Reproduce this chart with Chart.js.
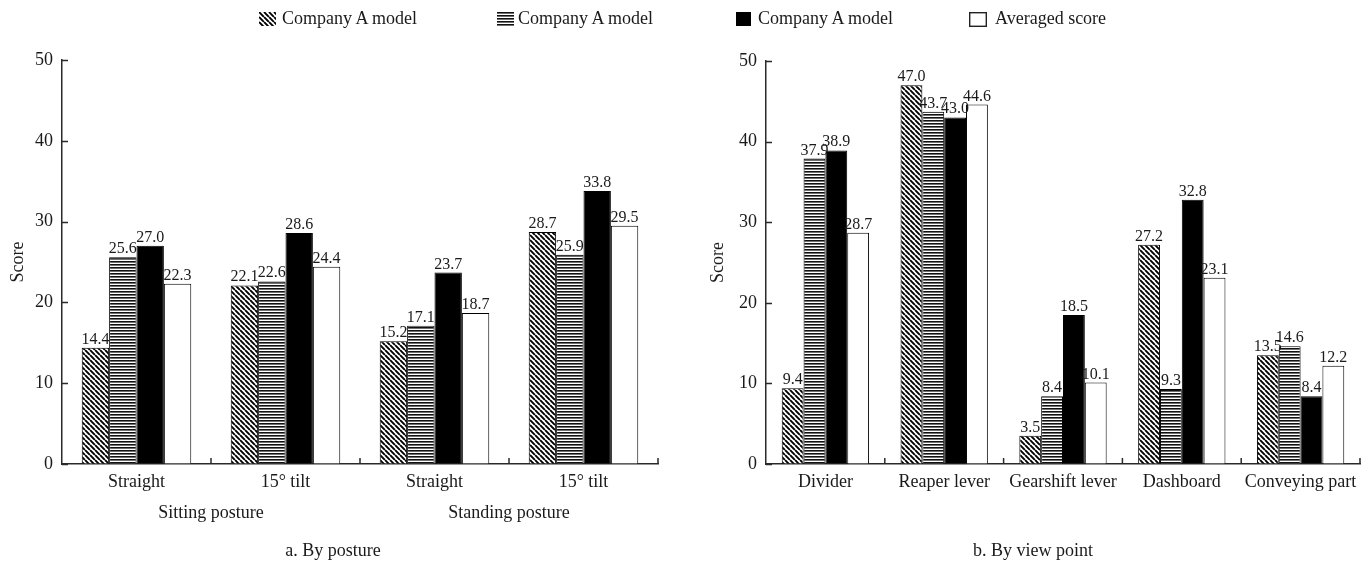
<!DOCTYPE html>
<html>
<head>
<meta charset="utf-8">
<script src="https://cdn.jsdelivr.net/npm/chart.js@4.4.1/dist/chart.umd.min.js"></script>
<style>
  html, body { margin: 0; padding: 0; background: #fff; }
  body { width: 1371px; height: 564px; overflow: hidden; position: relative;
         font-family: "Liberation Serif", "Times New Roman", serif; color: #1a1a1a; }
  .sw { position: absolute; top: 12px; }
  .lt { position: absolute; top: 9px; font-size: 18px; line-height: 18px; white-space: nowrap; }
  .cap { position: absolute; top: 541px; font-size: 18px; line-height: 18px; white-space: nowrap; transform: translateX(-50%); }
  #c1 { position: absolute; left: 0; top: 0; }
  #c2 { position: absolute; left: 700px; top: 0; }
</style>
</head>
<body>
<canvas id="c1" width="700" height="564"></canvas>
<canvas id="c2" width="671" height="564"></canvas>

<canvas class="sw" id="sw0" width="17" height="14" style="left:259px"></canvas>
<div class="lt" id="lt0" style="left:282px"></div>
<canvas class="sw" id="sw1" width="17" height="14" style="left:497px"></canvas>
<div class="lt" id="lt1" style="left:518px"></div>
<canvas class="sw" id="sw2" width="15" height="14" style="left:736px"></canvas>
<div class="lt" id="lt2" style="left:758px"></div>
<canvas class="sw" id="sw3" width="18" height="15" style="left:969px"></canvas>
<div class="lt" id="lt3" style="left:995px"></div>

<div class="cap" style="left:333px">a. By posture</div>
<div class="cap" style="left:1033px">b. By view point</div>

<script>
// ---------- data ----------
const seriesNames = ['Company A model', 'Company A model', 'Company A model', 'Averaged score'];

const postureLabels = ['Straight', '15\u00B0 tilt', 'Straight', '15\u00B0 tilt'];
const postureGroups = ['Sitting posture', 'Standing posture'];
const postureS1  = [14.4, 22.1, 15.2, 28.7];
const postureS2  = [25.6, 22.6, 17.1, 25.9];
const postureS3  = [27.0, 28.6, 23.7, 33.8];
const postureAvg = [22.3, 24.4, 18.7, 29.5];

const viewLabels = ['Divider', 'Reaper lever', 'Gearshift lever', 'Dashboard', 'Conveying part'];
const viewS1  = [9.4, 47.0, 3.5, 27.2, 13.5];
const viewS2  = [37.9, 43.7, 8.4, 9.3, 14.6];
const viewS3  = [38.9, 43.0, 18.5, 32.8, 8.4];
const viewAvg = [28.7, 44.6, 10.1, 23.1, 12.2];

const yTicks = [0, 10, 20, 30, 40, 50];

// ---------- styles ----------
const FONT = '"Liberation Serif", "Times New Roman", serif';
const INK = '#1a1a1a';
const AXIS = '#2a2a2a';

function hatchPattern() {
  const s = 5;
  const c = document.createElement('canvas'); c.width = s; c.height = s;
  const g = c.getContext('2d');
  g.fillStyle = '#fff'; g.fillRect(0, 0, s, s);
  g.strokeStyle = '#000'; g.lineWidth = 1.9;
  g.beginPath();
  for (const o of [-s, 0, s]) { g.moveTo(o, 0); g.lineTo(o + s, s); }
  g.stroke();
  return g.createPattern(c, 'repeat');
}
function linePattern() {
  const c = document.createElement('canvas'); c.width = 4; c.height = 3;
  const g = c.getContext('2d');
  g.fillStyle = '#fff'; g.fillRect(0, 0, 4, 3);
  g.fillStyle = '#111'; g.fillRect(0, 0, 4, 1.6);
  return g.createPattern(c, 'repeat');
}
const fills = [hatchPattern(), linePattern(), '#000', '#fff'];

// ---------- legend (HTML text + painted swatches) ----------
seriesNames.forEach((n, i) => {
  document.getElementById('lt' + i).textContent = n;
  const cv = document.getElementById('sw' + i);
  const g = cv.getContext('2d');
  if (i === 3) {
    g.fillStyle = '#fff'; g.fillRect(0, 0, cv.width, cv.height);
    g.strokeStyle = '#222'; g.lineWidth = 1.4;
    g.strokeRect(0.7, 0.7, cv.width - 1.4, cv.height - 1.4);
  } else {
    g.fillStyle = fills[i]; g.fillRect(0, 0, cv.width, cv.height);
  }
});

// ---------- plugins ----------
const valueLabels = {
  id: 'valueLabels',
  afterDatasetsDraw(chart) {
    const ctx = chart.ctx;
    ctx.save();
    ctx.font = '16px ' + FONT;
    ctx.fillStyle = INK;
    ctx.textAlign = 'center';
    ctx.textBaseline = 'alphabetic';
    chart.data.datasets.forEach((ds, di) => {
      chart.getDatasetMeta(di).data.forEach((el, i) => {
        ctx.fillText(ds.data[i].toFixed(1), el.x, el.y - 4);
      });
    });
    ctx.restore();
  }
};

const inwardTicks = {
  id: 'inwardTicks',
  afterDraw(chart) {
    const ctx = chart.ctx;
    const x = chart.scales.x, y = chart.scales.y;
    ctx.save();
    ctx.strokeStyle = AXIS; ctx.lineWidth = 1.5;
    ctx.beginPath();
    yTicks.forEach(v => {
      const py = Math.round(y.getPixelForValue(v)) + 0.5;
      ctx.moveTo(x.left, py); ctx.lineTo(x.left + 6, py);
    });
    const n = x.getLabels().length;
    for (let i = 1; i <= n; i++) {
      const px = x.left + (x.right - x.left) * i / n;
      ctx.moveTo(px, y.bottom); ctx.lineTo(px, y.bottom - 6);
    }
    ctx.stroke();
    ctx.restore();
  }
};

function makeDatasets(arrs) {
  return arrs.map((d, i) => ({
    label: seriesNames[i],
    data: d,
    backgroundColor: fills[i],
    borderColor: '#000',
    borderWidth: 1,
    barPercentage: 1.0,
    categoryPercentage: 0.735
  }));
}

function yScale(width) {
  return {
    min: 0, max: 50,
    afterBuildTicks: s => { s.ticks = yTicks.map(v => ({ value: v })); },
    ticks: { font: { family: FONT, size: 18 }, color: INK, padding: 9 },
    grid: { display: true, drawOnChartArea: false, drawTicks: false },
    border: { display: true, color: AXIS, width: 1.5 },
    title: { display: true, text: 'Score', font: { family: FONT, size: 18 }, color: INK, padding: { top: 7, bottom: 0 } },
    afterFit: s => { s.width = width; }
  };
}

function xScale(height) {
  return {
    type: 'category',
    offset: true,
    weight: 0,
    ticks: { font: { family: FONT, size: 18 }, color: INK, padding: 7, maxRotation: 0, autoSkip: false },
    grid: { display: true, drawOnChartArea: false, drawTicks: false },
    border: { display: true, color: AXIS, width: 1.5 },
    afterFit: s => { s.height = height; }
  };
}

const common = {
  responsive: false,
  animation: false,
  events: [],
  plugins: { legend: { display: false }, tooltip: { enabled: false }, title: { display: false } }
};

// ---------- chart a ----------
new Chart(document.getElementById('c1'), {
  type: 'bar',
  data: { labels: postureLabels, datasets: makeDatasets([postureS1, postureS2, postureS3, postureAvg]) },
  options: Object.assign({}, common, {
    layout: { padding: { left: 0, right: 42, top: 60, bottom: 0 } },
    scales: {
      x: xScale(30),
      x2: {
        type: 'category',
        labels: postureGroups,
        position: 'bottom',
        offset: true,
        weight: 1,
        ticks: { font: { family: FONT, size: 18 }, color: INK, padding: 8, maxRotation: 0, autoSkip: false },
        grid: { display: false, drawTicks: false },
        border: { display: false },
        afterFit: s => { s.height = 70; }
      },
      y: yScale(62)
    }
  }),
  plugins: [valueLabels, inwardTicks]
});

// ---------- chart b ----------
new Chart(document.getElementById('c2'), {
  type: 'bar',
  data: { labels: viewLabels, datasets: makeDatasets([viewS1, viewS2, viewS3, viewAvg]) },
  options: Object.assign({}, common, {
    layout: { padding: { left: 0, right: 11, top: 61, bottom: 0 } },
    scales: {
      x: xScale(100),
      y: yScale(66)
    }
  }),
  plugins: [valueLabels, inwardTicks]
});
</script>
</body>
</html>
